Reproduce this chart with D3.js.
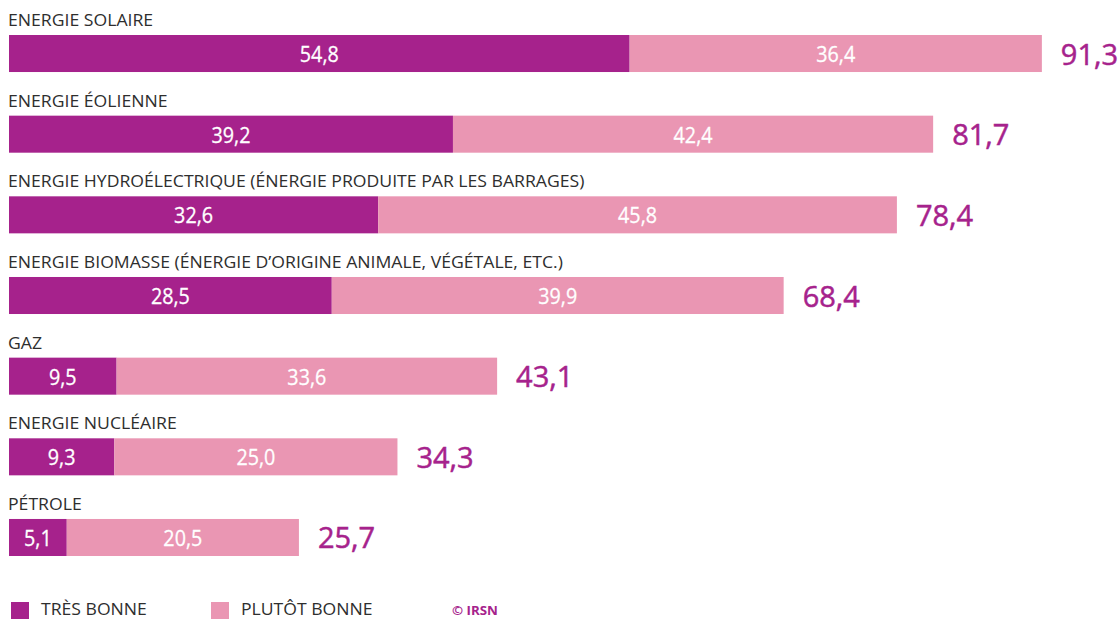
<!DOCTYPE html>
<html>
<head>
<meta charset="utf-8">
<script src="https://cdn.jsdelivr.net/npm/d3@7"></script>
<style>
  html, body { margin: 0; padding: 0; background: #fff; }
  svg { display: block; }
  text { font-family: "Open Sans", "Noto Sans", sans-serif; }
</style>
</head>
<body>
<svg id="chart" width="1120" height="619"></svg>
<script>
const categories = [
  "ENERGIE SOLAIRE",
  "ENERGIE ÉOLIENNE",
  "ENERGIE HYDROÉLECTRIQUE (ÉNERGIE PRODUITE PAR LES BARRAGES)",
  "ENERGIE BIOMASSE (ÉNERGIE D’ORIGINE ANIMALE, VÉGÉTALE, ETC.)",
  "GAZ",
  "ENERGIE NUCLÉAIRE",
  "PÉTROLE"
];
const tresBonne   = [54.8, 39.2, 32.6, 28.5, 9.5, 9.3, 5.1];
const plutotBonne = [36.4, 42.4, 45.8, 39.9, 33.6, 25.0, 20.5];
const totals      = [91.3, 81.7, 78.4, 68.4, 43.1, 34.3, 25.7];
const seriesNames = ["TRÈS BONNE", "PLUTÔT BONNE"];
const sourceLabel = "© IRSN";

const colors = ["#a6228c", "#ea96b3"];
const textColor = "#2e2e2e";
const fmt = v => v.toFixed(1).replace(".", ",");

const svg = d3.select("#chart");

const x = d3.scaleLinear().domain([0, 91.3]).range([9, 1043]);
const y = d3.scaleBand().domain(categories).range([35, 556]).paddingInner(0.541).paddingOuter(0);

const rows = categories.map((c, i) => ({
  cat: c,
  segs: [
    { s: 0, v: tresBonne[i], x0: 0, x1: tresBonne[i] },
    { s: 1, v: plutotBonne[i], x0: tresBonne[i], x1: tresBonne[i] + plutotBonne[i] }
  ],
  total: totals[i]
}));

// Category labels
const catLabels = svg.append("g").selectAll("text")
  .data(rows).join("text")
  .attr("font-size", 16.5)
  .attr("fill", textColor)
  .text(d => d.cat);
const refCat = catLabels.filter(d => d.cat === categories[2]).node();
const sxCat = 577 / refCat.getComputedTextLength();
catLabels.attr("transform", d => `translate(${x(0) - 1},${y(d.cat) - 9}) scale(${sxCat},1)`);

// Bars
const rowG = svg.append("g").selectAll("g").data(rows).join("g");
rowG.selectAll("rect").data(d => d.segs.map(s => ({ ...s, cat: d.cat }))).join("rect")
  .attr("x", d => x(d.x0))
  .attr("y", d => y(d.cat))
  .attr("width", d => x(d.x1) - x(d.x0))
  .attr("height", y.bandwidth())
  .attr("fill", d => colors[d.s]);

// Inside value labels
const valLabels = rowG.selectAll("text.val").data(d => d.segs.map(s => ({ ...s, cat: d.cat }))).join("text")
  .attr("class", "val")
  .attr("font-size", 22)
  .attr("fill", "#ffffff")
  .attr("stroke", "#ffffff")
  .attr("stroke-width", 0.3)
  .attr("text-anchor", "middle")
  .text(d => fmt(d.v));
const refVal = valLabels.filter(d => d.cat === categories[0] && d.s === 0).node();
const sxVal = 39 / refVal.getComputedTextLength();
valLabels.attr("transform", d => `translate(${(x(d.x0) + x(d.x1)) / 2},${y(d.cat) + y.bandwidth() / 2 + 8.5}) scale(${sxVal},1)`);

// Totals
svg.append("g").selectAll("text").data(rows).join("text")
  .attr("x", d => x(d.segs[1].x1) + 19)
  .attr("y", d => y(d.cat) + y.bandwidth() / 2 + 11)
  .attr("font-size", 29)
  .attr("font-weight", 500)
  .attr("fill", colors[0])
  .attr("stroke", colors[0])
  .attr("stroke-width", 0.5)
  .text(d => fmt(d.total));

// Legend
const legendX = [11, 211];
const leg = svg.append("g").selectAll("g").data(seriesNames).join("g");
leg.append("rect")
  .attr("x", (d, i) => legendX[i])
  .attr("y", 602)
  .attr("width", 18)
  .attr("height", 18)
  .attr("fill", (d, i) => colors[i]);
const legText = leg.append("text")
  .attr("font-size", 16.5)
  .attr("fill", textColor)
  .text(d => d);
const sxLeg = 106 / legText.filter((d, i) => i === 0).node().getComputedTextLength();
legText.attr("transform", (d, i) => `translate(${legendX[i] + 30},615) scale(${sxLeg},1)`);

const src = svg.append("text")
  .attr("font-size", 13)
  .attr("font-weight", 700)
  .attr("fill", colors[0])
  .text(sourceLabel);
const sxSrc = 46 / src.node().getComputedTextLength();
src.attr("transform", `translate(452,614.5) scale(${sxSrc},1)`);
</script>
</body>
</html>
